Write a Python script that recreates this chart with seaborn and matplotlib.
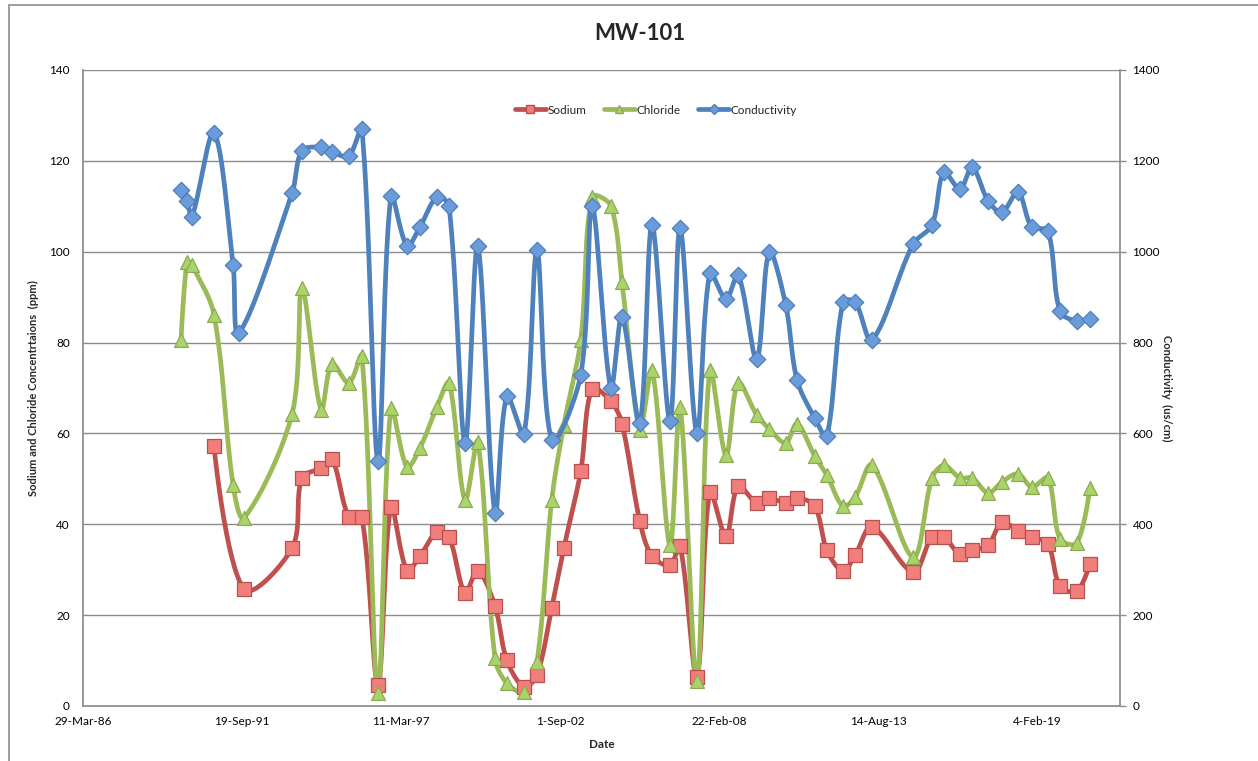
import numpy as np
import pandas as pd
import matplotlib
matplotlib.use("Agg")
import matplotlib.pyplot as plt
import matplotlib.dates as mdates
from matplotlib.lines import Line2D
from matplotlib.patches import Rectangle
import seaborn as sns

# ---------------- data ----------------
sample_dates = [
    "1989-08-13", "1989-10-27", "1989-12-27", "1990-10-01", "1991-05-30", "1991-08-10",
    "1991-10-15", "1993-06-10", "1993-10-12", "1994-06-10", "1994-10-25", "1995-05-25",
    "1995-11-05", "1996-05-25", "1996-11-05", "1997-05-25", "1997-11-05", "1998-06-05",
    "1998-11-05", "1999-05-25", "1999-11-01", "2000-06-05", "2000-11-01", "2001-06-05",
    "2001-11-15", "2002-05-20", "2002-10-20", "2003-05-20", "2003-10-10", "2004-06-01",
    "2004-10-20", "2005-06-01", "2005-11-01", "2006-06-15", "2006-10-20", "2007-05-20",
    "2007-10-30", "2008-05-20", "2008-10-20", "2009-06-10", "2009-11-15", "2010-06-10",
    "2010-10-30", "2011-06-10", "2011-11-10", "2012-05-30", "2012-10-30", "2013-05-30",
    "2014-10-30", "2015-06-25", "2015-11-20", "2016-06-10", "2016-11-10", "2017-05-30",
    "2017-11-20", "2018-06-10", "2018-12-01", "2019-06-20", "2019-11-20", "2020-06-20",
    "2020-12-01",
]

sodium = [
    None, None, None, 57.2, None, None,
    25.7, 34.8, 50.2, 52.4, 54.4, 41.6,
    41.6, 4.6, 43.8, 29.8, 33.0, 38.3,
    37.2, 24.9, 29.8, 22.0, 10.1, 4.2,
    6.8, 21.6, 34.8, 51.7, 69.8, 67.1,
    62.1, 40.7, 33.0, 31.0, 35.2, 6.4,
    47.1, 37.4, 48.4, 44.7, 45.8, 44.7,
    45.8, 44.0, 34.3, 29.7, 33.2, 39.4,
    29.5, 37.2, 37.2, 33.4, 34.3, 35.4,
    40.5, 38.5, 37.2, 35.7, 26.4, 25.3,
    31.3,
]

chloride = [
    80.6, 97.8, 97.1, 86.1, 48.6, None,
    41.4, 64.3, 92.0, 65.2, 75.3, 71.1,
    77.0, 2.9, 65.6, 52.6, 56.8, 65.8,
    71.1, 45.3, 58.1, 10.5, 5.0, 3.1,
    9.7, 45.3, 61.9, 80.6, 112.0, 110.1,
    93.3, 60.8, 74.0, 35.4, 65.8, 5.5,
    74.0, 55.2, 71.1, 64.1, 61.0, 57.9,
    62.1, 55.0, 50.8, 44.0, 46.0, 53.0,
    32.8, 50.2, 53.0, 50.2, 50.2, 46.9,
    49.3, 51.1, 48.2, 50.2, 36.8, 35.9,
    48.0,
]

conductivity = [
    1136, 1112, 1076, 1261, 971, 821,
    None, 1129, 1222, 1230, 1219, 1211,
    1270, 539, 1123, 1013, 1055, 1120,
    1101, 579, 1013, 425, 682, 599,
    1004, 586, None, 729, 1101, 700,
    857, 623, 1059, 627, 1053, 601,
    953, 896, 949, 764, 999, 883,
    718, 634, 594, 889, 889, 806,
    1017, 1059, 1175, 1138, 1186, 1112,
    1087, 1131, 1054, 1046, 869, 847,
    852,
]

left_ticks = [0, 20, 40, 60, 80, 100, 120, 140]
right_ticks = [0, 200, 400, 600, 800, 1000, 1200, 1400]
x_start = "1986-03-29"
x_end = "2021-12-14"
tick_step_days = 2000

# ---------------- figure geometry ----------------
W, H = 1258, 761
L, R, T, B = 83, 1120, 70, 706

x0 = mdates.date2num(pd.Timestamp(x_start))
x1 = mdates.date2num(pd.Timestamp(x_end))


def smooth_curve(x, y, sx, sy, n=30):
    """Excel-like smoothed line: cubic Bezier, tangents scaled by chord lengths
    (computed in screen space so that spikes do not overshoot)."""
    P = np.column_stack([np.asarray(x, float) * sx, np.asarray(y, float) * sy])
    m = len(P)
    d = np.linalg.norm(np.diff(P, axis=0), axis=1)
    tang = np.zeros_like(P)
    for i in range(m):
        if 0 < i < m - 1:
            tang[i] = (P[i + 1] - P[i - 1]) / (d[i - 1] + d[i])
        else:
            tang[i] = 0.0
    t = np.linspace(0, 1, n)
    out = []
    for i in range(m - 1):
        p1, p2 = P[i], P[i + 1]
        c1 = p1 + tang[i] * d[i] / 3.0
        c2 = p2 - tang[i + 1] * d[i] / 3.0
        seg = ((1 - t) ** 3)[:, None] * p1 + (3 * (1 - t) ** 2 * t)[:, None] * c1 \
            + (3 * (1 - t) * t ** 2)[:, None] * c2 + (t ** 3)[:, None] * p2
        if i > 0:
            seg = seg[1:]
        out.append(seg)
    out = np.vstack(out)
    return out[:, 0] / sx, out[:, 1] / sy


df = pd.DataFrame({
    "date": pd.to_datetime(sample_dates),
    "Sodium": pd.Series(sodium, dtype="float"),
    "Chloride": pd.Series(chloride, dtype="float"),
    "Conductivity": pd.Series(conductivity, dtype="float"),
})
df["xnum"] = mdates.date2num(df["date"])

# ---------------- styling ----------------
sns.set_theme(style="white")
plt.rcParams["font.family"] = ["Lato", "DejaVu Sans"]

fig = plt.figure(figsize=(W / 100, H / 100), dpi=100)
ax = fig.add_axes([L / W, 1 - B / H, (R - L) / W, (B - T) / H])
ax2 = ax.twinx()

px_per_day = (R - L) / (x1 - x0)
series = [
    # name, axis, ymax, line color, marker, marker face, marker edge, size
    ("Sodium", ax, 140, "#C0504D", "s", "#F27E7C", "#B8504D", 100),
    ("Chloride", ax, 140, "#9BBB59", "^", "#A9D46A", "#8DAA50", 100),
    ("Conductivity", ax2, 1400, "#4F81BD", "D", "#6A9BDB", "#4F7EB8", 70),
]

for name, a, ymax, lc, mk, mf, me, ms in series:
    sub = df[["xnum", name]].dropna()
    cx, cy = smooth_curve(sub["xnum"].values, sub[name].values, px_per_day, (B - T) / ymax)
    sns.lineplot(x=cx, y=cy, ax=a, sort=False, estimator=None, color=lc,
                 linewidth=3.4, zorder=2, legend=False)
    sns.scatterplot(x=sub["xnum"].values, y=sub[name].values, ax=a, marker=mk, s=ms,
                    color=mf, edgecolor=me, linewidth=0.9, zorder=3, legend=False)

# axes limits and ticks
ax.set_xlim(x0, x1)
xt = np.arange(x0, x1 + 1, tick_step_days)
ax.set_xticks(xt)


def fmt_date(v):
    dd = mdates.num2date(v)
    return f"{dd.day}-{dd.strftime('%b')}-{dd.strftime('%y')}"


ax.set_xticklabels([fmt_date(v) for v in xt], fontsize=8.5)
ax.set_ylim(0, 140)
ax.set_yticks(left_ticks)
ax.set_yticklabels([str(v) for v in left_ticks], fontsize=8.5)
ax2.set_ylim(0, 1400)
ax2.set_yticks(right_ticks)
ax2.set_yticklabels([str(v) for v in right_ticks], fontsize=8.5)

grid_c = "#8C8C8C"
ax.yaxis.grid(True, color=grid_c, linewidth=1.0)
ax.xaxis.grid(False)
ax.set_axisbelow(True)
for a in (ax, ax2):
    for s in a.spines.values():
        s.set_visible(False)
ax.spines["left"].set_visible(True)
ax.spines["left"].set_color(grid_c)
ax.spines["bottom"].set_visible(True)
ax.spines["bottom"].set_color(grid_c)
ax2.spines["right"].set_visible(True)
ax2.spines["right"].set_color(grid_c)

ax.tick_params(axis="x", length=0, pad=7, labelcolor="black")
ax.tick_params(axis="y", length=0, pad=9.5, labelcolor="black")
ax2.tick_params(axis="y", length=4, width=1, color=grid_c, pad=5, labelcolor="black")
ax2.grid(False)

ax.set_xlabel("Date", fontsize=8.5, fontweight="bold", labelpad=9)
ax.set_ylabel("Sodium and Chloride Concentrtaions  (ppm)", fontsize=8, fontweight="bold", labelpad=7)
ax2.set_ylabel("Conductivity  (us/cm)", fontsize=8, fontweight="bold", rotation=270,
               labelpad=1, va="bottom")

fig.text(640 / W, 1 - 33 / H, "MW-101", ha="center", va="center", fontsize=16, fontweight="bold")

handles = [
    Line2D([0], [0], color=lc, linewidth=3.4, marker=mk, markersize=6 if mk != "D" else 5,
           markerfacecolor=mf, markeredgecolor=me)
    for name, a, ymax, lc, mk, mf, me, ms in series
]
fig.legend(handles, [s[0] for s in series], loc="center", bbox_to_anchor=(656 / W, 1 - 110 / H),
           ncol=3, frameon=False, fontsize=8.5, handlelength=2.6, handletextpad=0.15,
           columnspacing=1.5)

# outer chart border
fig.add_artist(Rectangle((9 / W, -0.05), 1.2, 1 - 5 / H + 0.05, transform=fig.transFigure,
                         fill=False, edgecolor="#8C8C8C", linewidth=1.2))

fig.savefig("out.png", dpi=100)
